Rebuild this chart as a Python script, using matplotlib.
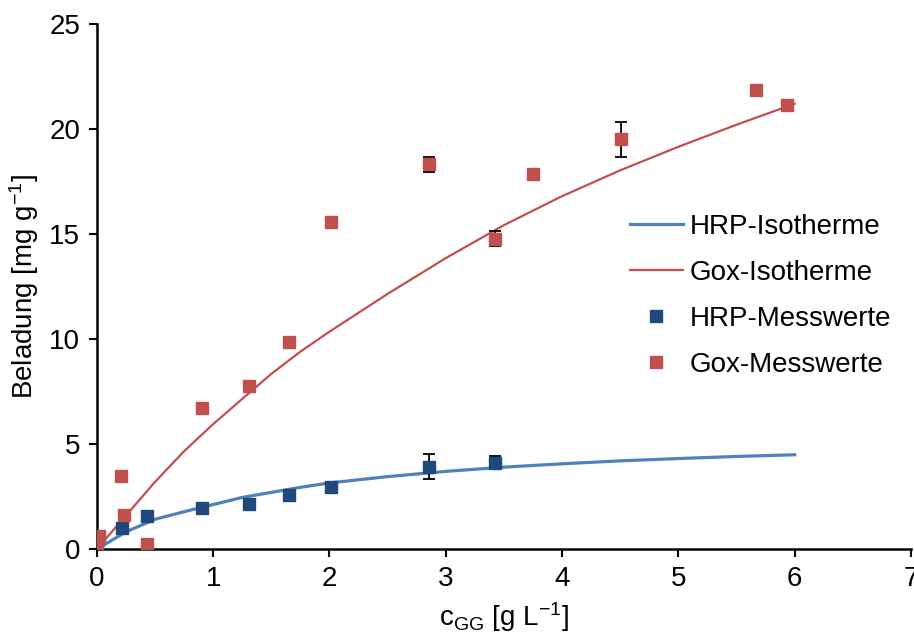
import matplotlib
matplotlib.use("Agg")
import numpy as np
import matplotlib.pyplot as plt

plt.rcParams['font.family'] = ['Liberation Sans', 'DejaVu Sans']
plt.rcParams['mathtext.fontset'] = 'custom'
plt.rcParams['mathtext.rm'] = 'Liberation Sans'
plt.rcParams['mathtext.default'] = 'regular'

# Messwerte HRP
hrp_c = [0.0, 0.215, 0.435, 0.90, 1.31, 1.65, 2.01, 2.855, 3.42]
hrp_q = [0.0, 1.0, 1.57, 1.97, 2.17, 2.57, 2.94, 3.92, 4.11]
hrp_err = [0, 0, 0, 0, 0.15, 0, 0, 0.6, 0.3]

# Messwerte GOx
gox_c = [0.0, 0.02, 0.21, 0.235, 0.435, 0.90, 1.31, 1.65, 2.01, 2.855, 3.42, 3.75, 4.51, 5.67, 5.93]
gox_q = [0.0, 0.6, 3.5, 1.6, 0.25, 6.7, 7.76, 9.86, 15.57, 18.32, 14.78, 17.84, 19.5, 21.86, 21.14]
gox_err = [0, 0, 0, 0, 0, 0, 0.2, 0, 0.15, 0.35, 0.35, 0, 0.85, 0, 0]

# Isothermen
iso_c = [0, 0.25, 0.5, 0.75, 1.0, 1.25, 1.5, 1.75, 2.0, 2.5, 3.0, 3.5, 4.0, 4.5, 5.0, 5.5, 6.0]
hrp_iso = [0, 0.82, 1.42, 1.78, 2.12, 2.46, 2.70, 2.94, 3.15, 3.45, 3.7, 3.9, 4.06, 4.2, 4.31, 4.41, 4.49]
gox_iso = [0, 1.6, 3.2, 4.66, 5.95, 7.15, 8.34, 9.4, 10.35, 12.15, 13.85, 15.42, 16.8, 18.03, 19.15, 20.2, 21.2]

fs = 20
fig = plt.figure(figsize=(9.14, 6.37), dpi=100)
ax = fig.add_axes([0.106, 0.138, 0.8907, 0.8245])

ax.plot(iso_c, hrp_iso, color='#4F81BD', lw=2.3, label='HRP-Isotherme', zorder=2)
ax.plot(iso_c, gox_iso, color='#C0504D', lw=1.6, label='Gox-Isotherme', zorder=2)

for c, q, e in [(hrp_c, hrp_q, hrp_err), (gox_c, gox_q, gox_err)]:
    c, q, e = np.array(c), np.array(q), np.array(e)
    m = e > 0
    ax.errorbar(c[m], q[m], yerr=e[m], fmt='none', ecolor='black',
                elinewidth=1.3, capsize=4.5, capthick=1.3, zorder=3)

ax.plot(hrp_c, hrp_q, 's', color='#1F497D', ms=8.5, label='HRP-Messwerte', zorder=4)
ax.plot(gox_c, gox_q, 's', color='#C0504D', ms=8.5, label='Gox-Messwerte', zorder=4)

ax.set_xlim(0, 7)
ax.set_ylim(0, 25)
ax.set_xticks(range(0, 8))
ax.set_yticks(range(0, 26, 5))
for s in ['top', 'right']:
    ax.spines[s].set_visible(False)
for s in ['left', 'bottom']:
    ax.spines[s].set_linewidth(1.8)
ax.tick_params(direction='out', length=6, width=1.5, labelsize=fs, pad=6)

ax.set_xlabel('c$_{GG}$ [g L$^{-1}$]', fontsize=fs, labelpad=6)
ax.set_ylabel('Beladung [mg g$^{-1}$]', fontsize=fs, labelpad=6)

ax.legend(loc='upper left', bbox_to_anchor=(0.641, 0.66), frameon=False,
          fontsize=fs, handlelength=1.9, handletextpad=0.25, labelspacing=0.72,
          borderaxespad=0)

fig.savefig('out.png', dpi=100)
